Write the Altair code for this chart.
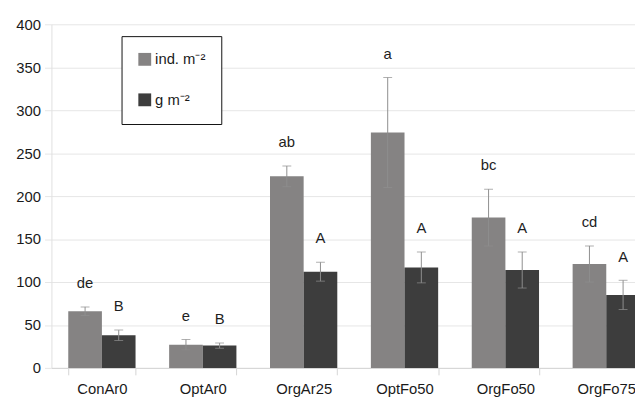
import altair as alt
import pandas as pd

categories = ["ConAr0", "OptAr0", "OrgAr25", "OptFo50", "OrgFo50", "OrgFo75"]
series = ["ind. m⁻²", "g m⁻²"]
ind_values = [66, 27, 223, 274, 175, 121]
ind_errors = [5, 6, 12, 64, 33, 21]
g_values = [38, 26, 112, 117, 114, 85]
g_errors = [6, 3, 11, 18, 21, 17]
ind_letters = ["de", "e", "ab", "a", "bc", "cd"]
g_letters = ["B", "B", "A", "A", "A", "A"]
y_ticks = [0, 50, 100, 150, 200, 250, 300, 350, 400]

rows = []
for i, c in enumerate(categories):
    rows.append(dict(cat=c, series=series[0], value=ind_values[i], err=ind_errors[i], letter=ind_letters[i]))
    rows.append(dict(cat=c, series=series[1], value=g_values[i], err=g_errors[i], letter=g_letters[i]))
df = pd.DataFrame(rows)

FONT = "Liberation Sans"

base = alt.Chart(df).transform_calculate(
    lo="datum.value - datum.err", hi="datum.value + datum.err"
)

x_enc = alt.X(
    "cat:N",
    sort=categories,
    scale=alt.Scale(range=[0, 613], paddingInner=0.333, paddingOuter=0.1667),
    axis=alt.Axis(
        title=None, labelAngle=0, labelFont=FONT, labelFontSize=15, labelColor="#1a1a1a",
        domainColor="#d4d4d4", tickColor="#d4d4d4", tickSize=7, tickBand="extent",
        labelPadding=7, grid=False,
    ),
)
xo_enc = alt.XOffset("series:N", sort=series, scale=alt.Scale(domain=series, paddingInner=0, paddingOuter=0))
y_scale = alt.Scale(domain=[0, 400], nice=False)

bars = base.mark_bar(clip=True).encode(
    x=x_enc,
    xOffset=xo_enc,
    y=alt.Y(
        "value:Q",
        scale=y_scale,
        axis=alt.Axis(
            values=y_ticks, title=None, labelFont=FONT, labelFontSize=15, labelColor="#1a1a1a",
            gridColor="#e6e6e6", domainColor="#e0e0e0", tickColor="#e6e6e6", tickSize=7,
            labelPadding=4,
        ),
    ),
    color=alt.Color(
        "series:N",
        sort=series,
        scale=alt.Scale(domain=series, range=["#858383", "#3d3d3d"]),
        legend=alt.Legend(
            title=None, orient="none", legendX=71, legendY=12,
            strokeColor="#111111", fillColor="white", padding=16,
            symbolType="square", symbolSize=169, symbolStrokeWidth=0,
            labelFont=FONT, labelFontSize=15, labelColor="#1a1a1a",
            rowPadding=25, labelOffset=3, labelExpr="datum.label + '    '",
        ),
    ),
)

rule = base.mark_rule(color="#8e8e8e", clip=True, strokeWidth=1).encode(
    x=x_enc, xOffset=xo_enc, y=alt.Y("lo:Q", scale=y_scale), y2="hi:Q"
)
cap_hi = base.mark_tick(color="#8e8e8e", clip=True, size=9, thickness=1, orient="horizontal").encode(
    x=x_enc, xOffset=xo_enc, y=alt.Y("hi:Q", scale=y_scale)
)
cap_lo = base.mark_tick(color="#8e8e8e", clip=True, size=9, thickness=1, orient="horizontal").encode(
    x=x_enc, xOffset=xo_enc, y=alt.Y("lo:Q", scale=y_scale)
)
letters = base.mark_text(dy=-24, font=FONT, fontSize=15, color="#1e1e1e", clip=True).encode(
    x=x_enc, xOffset=xo_enc, y=alt.Y("hi:Q", scale=y_scale), text="letter:N"
)

chart = (
    alt.layer(bars, rule, cap_hi, cap_lo, letters)
    .properties(
        width=591,
        height=348,
        padding={"left": 44, "top": 14, "right": 0, "bottom": 30},
        autosize=alt.AutoSizeParams(type="none"),
        background="white",
    )
    .configure_view(stroke=None)
)

chart.save("out.html", embed_options={"renderer": "svg", "actions": False})
